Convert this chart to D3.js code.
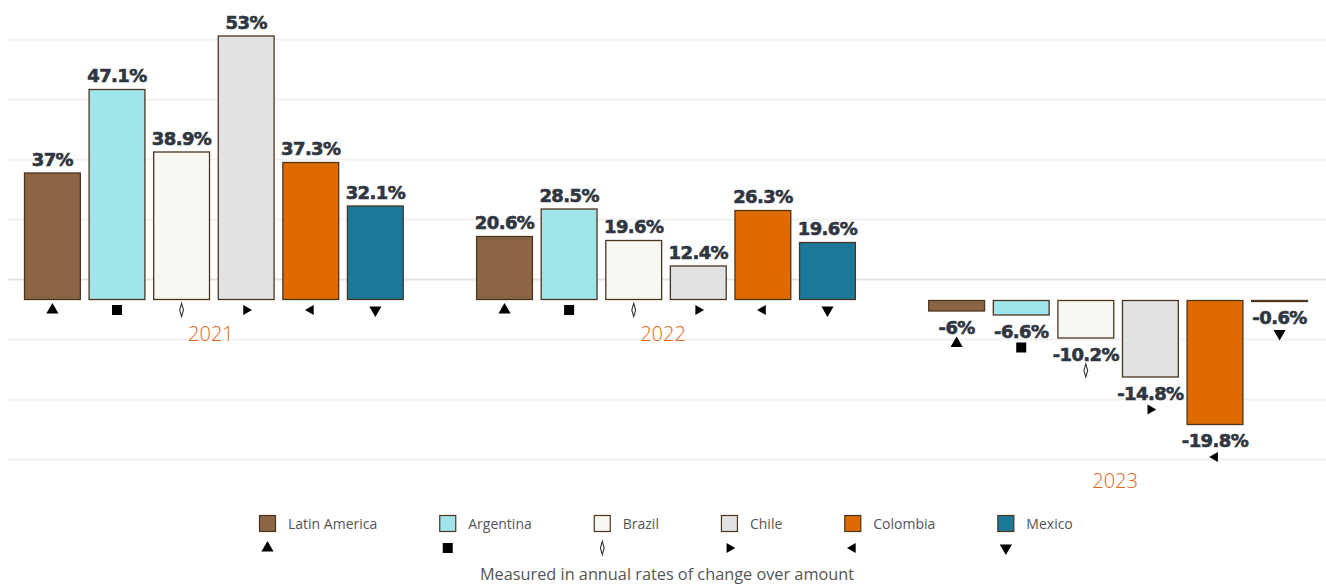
<!DOCTYPE html>
<html>
<head>
  <meta charset="utf-8">
  <title>Annual rates of change</title>
  <script src="https://d3js.org/d3.v7.min.js"></script>
  <style>
    body { margin: 0; background: #fff; }
    svg { display: block; }
  </style>
</head>
<body>
  <div id="chart"></div>
  <script>
    // Series and years
    const years = ["2021", "2022", "2023"];
    const countries = ["Latin America", "Argentina", "Brazil", "Chile", "Colombia", "Mexico"];
    const colors = ["#8c6544", "#a0e5ea", "#f8f7f2", "#e1e2e4", "#df6b00", "#1b7898"];
    const markers = ["triangle-up", "square", "lozenge", "triangle-right", "triangle-left", "triangle-down"];

    // Values printed on the bars (percent)
    const labels2021 = [37, 47.1, 38.9, 53, 37.3, 32.1];
    const labels2022 = [20.6, 28.5, 19.6, 12.4, 26.3, 19.6];
    const labels2023 = [-6, -6.6, -10.2, -14.8, -19.8, -0.6];

    // Bar lengths as drawn in the picture (axis units; they do not follow the labels exactly)
    const bars2021 = [25.5, 42.2, 29.7, 52.9, 27.6, 18.9];
    const bars2022 = [12.8, 18.3, 12, 6.9, 18, 11.6];
    const bars2023 = [-2.3, -3.1, -7.7, -15.5, -25, -0.3];

    // Background grid levels (axis units)
    const gridLevels = [52.2, 40.2, 28.2, 16.2, 4.2, -7.8, -19.8, -31.8];

    const caption = "Measured in annual rates of change over amount";

    const width = 1326;
    const height = 584;

    const labelSets = [labels2021, labels2022, labels2023];
    const barSets = [bars2021, bars2022, bars2023];

    const svg = d3.select("#chart")
      .append("svg")
      .attr("width", width)
      .attr("height", height);

    // Scales
    const x0 = d3.scaleBand()
      .domain(years)
      .range([24, 1308])
      .paddingInner(0.16);

    const x1 = d3.scaleBand()
      .domain(countries)
      .range([0, x0.bandwidth()])
      .paddingInner(0.12);

    const y = d3.scaleLinear()
      .domain([0, 53])
      .range([300, 35]);

    const color = d3.scaleOrdinal().domain(countries).range(colors);

    // draw a marker shape centred at (cx, cy)
    function drawMarker(sel, kind, cx, cy) {
      if (kind === "lozenge") {
        sel.append("path")
          .attr("d", d3.symbol(d3.symbolDiamond, 50)())
          .attr("transform", `translate(${cx},${cy}) scale(0.5,1)`)
          .attr("fill", "#fff")
          .attr("stroke", "#333")
          .attr("stroke-width", 1.1)
          .attr("vector-effect", "non-scaling-stroke");
        return;
      }
      if (kind === "square") {
        sel.append("path")
          .attr("d", d3.symbol(d3.symbolSquare, 100)())
          .attr("transform", `translate(${cx},${cy})`)
          .attr("fill", "#000");
        return;
      }
      const rot = { "triangle-up": 0, "triangle-right": 90, "triangle-down": 180, "triangle-left": 270 }[kind];
      const size = (kind === "triangle-up" || kind === "triangle-down") ? 64 : 44;
      sel.append("path")
        .attr("d", d3.symbol(d3.symbolTriangle, size)())
        .attr("transform", `translate(${cx},${cy}) rotate(${rot})`)
        .attr("fill", "#000");
    }

    // Grid lines
    svg.append("g")
      .selectAll("line")
      .data(gridLevels)
      .join("line")
      .attr("x1", 8)
      .attr("x2", width)
      .attr("y1", d => Math.round(y(d)) + 0.5)
      .attr("y2", d => Math.round(y(d)) + 0.5)
      .attr("stroke", (d, i) => i === 4 ? "#e4e4e4" : "#f1f1f1")
      .attr("stroke-width", 2);

    // Groups
    years.forEach((year, gi) => {
      const g = svg.append("g").attr("transform", `translate(${x0(year)},0)`);
      const rows = countries.map((c, i) => ({
        country: c,
        label: labelSets[gi][i],
        bar: barSets[gi][i],
        marker: markers[i]
      }));

      g.selectAll("rect")
        .data(rows)
        .join("rect")
        .attr("x", d => x1(d.country) + 0.5)
        .attr("y", d => y(Math.max(0, d.bar)) + 0.5)
        .attr("width", x1.bandwidth() - 1)
        .attr("height", d => Math.max(1, Math.abs(y(d.bar) - y(0)) - 1))
        .attr("fill", d => color(d.country))
        .attr("stroke", "#4a3520")
        .attr("stroke-width", 1.3);

      // value labels
      g.selectAll("text.value")
        .data(rows)
        .join("text")
        .attr("class", "value")
        .attr("x", d => x1(d.country) + x1.bandwidth() / 2)
        .attr("y", d => d.bar >= 0 ? y(d.bar) - 7 : y(d.bar) + 22)
        .attr("text-anchor", "middle")
        .style("font-family", "'DejaVu Sans', sans-serif")
        .style("font-weight", "bold")
        .style("font-size", "18px")
        .style("letter-spacing", "-0.6px")
        .style("fill", "#30363f")
        .style("stroke", "#30363f")
        .style("stroke-width", 0.6)
        .text(d => d.label + "%");

      // markers
      const markerY = d => d.bar >= 0 ? y(0) + 10 : y(d.bar) + 32;
      rows.forEach(d => {
        drawMarker(g, d.marker, x1(d.country) + x1.bandwidth() / 2, markerY(d));
      });

      // year label below the lowest element
      const lowest = d3.max(rows, markerY);
      g.append("text")
        .attr("x", x0.bandwidth() / 2 - 3)
        .attr("y", lowest + 31)
        .attr("text-anchor", "middle")
        .style("font-family", "'Open Sans', sans-serif")
        .style("font-weight", 300)
        .style("font-size", "20px")
        .style("fill", "#e0661a")
        .text(year);
    });

    // Legend
    const legend = svg.append("g");
    let lx = 0;
    countries.forEach((c, i) => {
      const item = legend.append("g").attr("transform", `translate(${lx},0)`);
      item.append("rect")
        .attr("x", 0.5)
        .attr("y", 515.5)
        .attr("width", 16)
        .attr("height", 16)
        .attr("fill", colors[i])
        .attr("stroke", "#4a3520")
        .attr("stroke-width", 1.2);
      const t = item.append("text")
        .attr("x", 29)
        .attr("y", 529)
        .style("font-family", "'Open Sans', sans-serif")
        .style("font-size", "14px")
        .style("fill", "#555")
        .text(c);
      drawMarker(item, markers[i], 8.5, 548);
      lx += 29 + t.node().getComputedTextLength() + 62;
    });
    const legendWidth = lx - 62;
    legend.attr("transform", `translate(${Math.round(666 - legendWidth / 2)},0)`);

    // Caption
    svg.append("text")
      .attr("x", 667)
      .attr("y", 580)
      .attr("text-anchor", "middle")
      .style("font-family", "'Open Sans', sans-serif")
      .style("font-size", "16.3px")
      .style("fill", "#555")
      .text(caption);
  </script>
</body>
</html>
